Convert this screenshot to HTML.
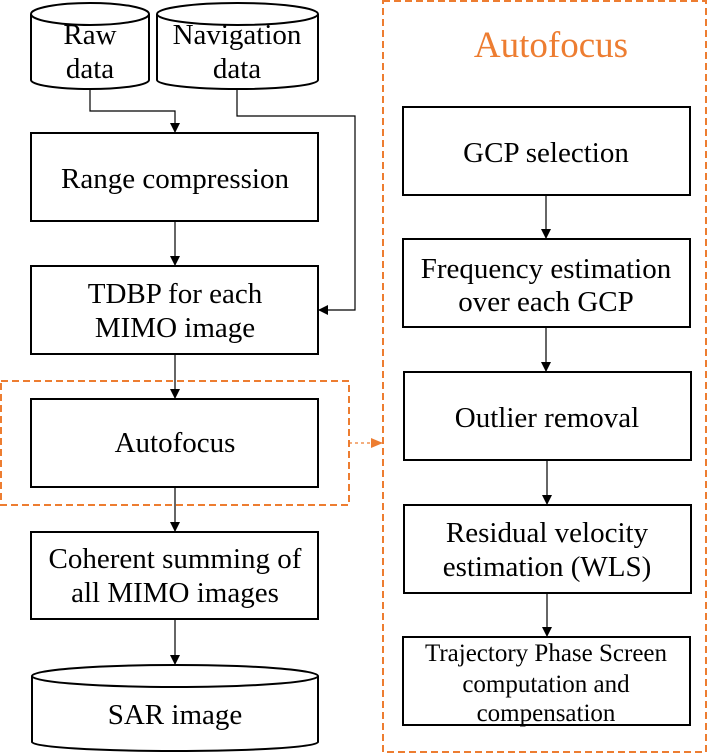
<!DOCTYPE html>
<html><head><meta charset="utf-8"><style>
html,body{margin:0;padding:0;background:#fff;}
svg{display:block;}
.t{font-family:"Liberation Serif","Times New Roman","DejaVu Serif",serif;}
</style></head><body>
<svg width="708" height="754" viewBox="0 0 708 754" xmlns="http://www.w3.org/2000/svg">
<defs>
<marker id="a" markerWidth="10" markerHeight="10" refX="9" refY="5" orient="auto" markerUnits="userSpaceOnUse"><path d="M0,0 L10,5 L0,10 Z" fill="#000"/></marker>
<marker id="o" markerWidth="12" markerHeight="12" refX="11" refY="6" orient="auto" markerUnits="userSpaceOnUse"><path d="M0,1 L12,6 L0,11 Z" fill="#ED7D31"/></marker>
</defs>
<g fill="none" stroke="#000" stroke-width="2">
<path d="M31,14 L31,80 A59,9 0 0 0 149,80 L149,14"/>
<ellipse cx="90" cy="14" rx="59" ry="11" fill="#fff"/>
<path d="M157,14 L157,80 A80,9 0 0 0 318,80 L318,14"/>
<ellipse cx="237.5" cy="14" rx="80.5" ry="11" fill="#fff"/>
<rect x="31" y="133" width="287" height="88"/>
<rect x="31" y="266" width="287" height="88"/>
<rect x="31" y="399" width="287" height="88"/>
<rect x="31" y="532" width="287" height="87"/>
<path d="M32,676 L32,742 A143,9 0 0 0 318,742 L318,676"/>
<ellipse cx="175" cy="676" rx="143" ry="11" fill="#fff"/>
<rect x="403" y="107" width="287" height="88"/>
<rect x="403" y="239" width="287" height="88"/>
<rect x="404" y="372" width="287" height="88"/>
<rect x="404" y="505" width="287" height="88"/>
<rect x="403" y="637" width="287" height="88"/>
</g>
<g fill="none" stroke="#000" stroke-width="1.2">
<path d="M90,89 L90,111 L175,111 L175,132" marker-end="url(#a)"/>
<path d="M237,89 L237,116 L355,116 L355,310 L319,310" marker-end="url(#a)"/>
<path d="M175,221 L175,265" marker-end="url(#a)"/>
<path d="M175,354 L175,398" marker-end="url(#a)"/>
<path d="M175,487 L175,531" marker-end="url(#a)"/>
<path d="M175,619 L175,664" marker-end="url(#a)"/>
<path d="M546,195 L546,238" marker-end="url(#a)"/>
<path d="M546,327 L546,371" marker-end="url(#a)"/>
<path d="M547,460 L547,504" marker-end="url(#a)"/>
<path d="M547,593 L547,636" marker-end="url(#a)"/>
</g>
<g fill="none" stroke="#ED7D31" stroke-width="2" stroke-dasharray="7,4">
<rect x="1" y="381" width="348" height="124"/>
<rect x="383" y="1" width="323" height="751"/>
</g>
<path d="M349,443 L382,443" stroke="#ED7D31" stroke-width="1.2" stroke-dasharray="3,3" fill="none" marker-end="url(#o)"/>
<g class="t" font-size="29" fill="#000" text-anchor="middle">
<text x="90" y="44">Raw</text>
<text x="90" y="78">data</text>
<text x="237" y="44">Navigation</text>
<text x="237" y="78">data</text>
<text x="175" y="188">Range compression</text>
<text x="175" y="303">TDBP for each</text>
<text x="175" y="337">MIMO image</text>
<text x="175" y="452">Autofocus</text>
<text x="175" y="568">Coherent summing of</text>
<text x="175" y="602">all MIMO images</text>
<text x="175" y="724">SAR image</text>
<text x="546" y="162">GCP selection</text>
<text x="546" y="278">Frequency estimation</text>
<text x="546" y="311">over each GCP</text>
<text x="547" y="427">Outlier removal</text>
<text x="547" y="542">Residual velocity</text>
<text x="547" y="576">estimation (WLS)</text>
</g>
<g class="t" font-size="25" fill="#000" text-anchor="middle">
<text x="546" y="661">Trajectory Phase Screen</text>
<text x="546" y="692">computation and</text>
<text x="546" y="721">compensation</text>
</g>
<text class="t" x="551" y="57" font-size="37" fill="#ED7D31" text-anchor="middle">Autofocus</text>
</svg>
</body></html>
